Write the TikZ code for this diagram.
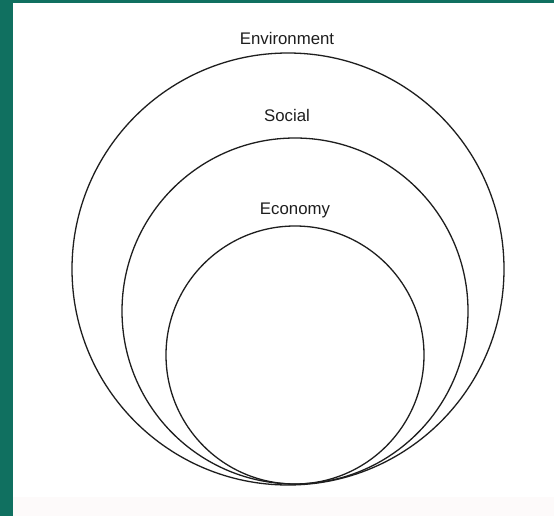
\documentclass[tikz,border=0pt]{standalone}
\usepackage{fontspec}
\setmainfont{Liberation Sans}
\definecolor{teal1}{RGB}{16,112,96}
\definecolor{ring}{RGB}{30,30,30}
\definecolor{band}{RGB}{253,250,250}
\begin{document}
\begin{tikzpicture}[x=1pt,y=-1pt,
  ringline/.style={draw=ring,line width=1.3pt},
  lab/.style={font=\fontsize{16.8}{19}\selectfont,text=ring,inner sep=0pt}]
\useasboundingbox (0,0) rectangle (554,516);
\fill[white] (0,0) rectangle (554,516);
\fill[band] (13,497) rectangle (554,516);
\fill[teal1] (0,0) rectangle (13,516);
\fill[teal1] (0,0) rectangle (554,3);
\draw[ringline] (288,269) circle[radius=216pt];
\draw[ringline] (295,311) circle[radius=173pt];
\draw[ringline] (295,355) circle[radius=129pt];
\node[lab] (env) at (287,38) {Environment};
\node[lab] (soc) at (287,115) {Social};
\node[lab] (eco) at (295,210) {Economy};
\end{tikzpicture}
\end{document}
